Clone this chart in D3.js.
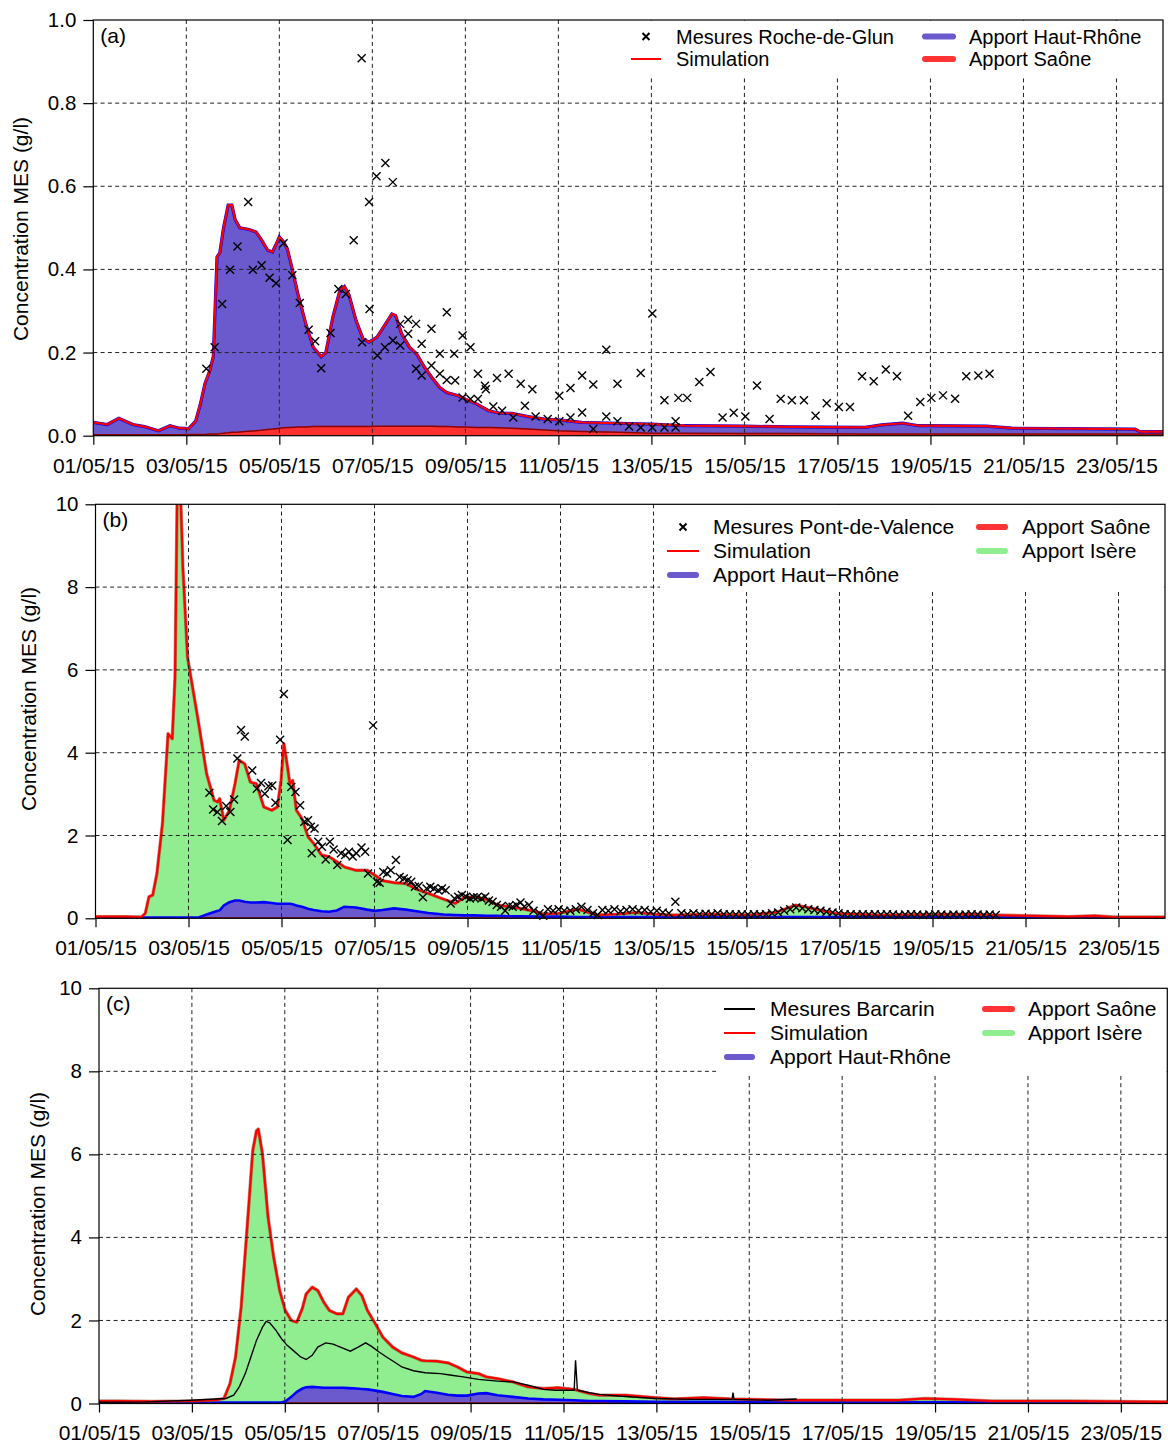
<!DOCTYPE html>
<html>
<head>
<meta charset="utf-8">
<script src="https://cdn.jsdelivr.net/npm/d3@7"></script>
<style>
    body { margin: 0; background: #fff; }
    svg { display: block; font-family: "Liberation Sans", Arial, Helvetica, sans-serif; }
</style>
</head>
<body>
<div id="chart"></div>
<script>
// time in days since 01/05/15 00:00, concentrations in g/l

// (a) Roche-de-Glun
const tA = [0, 0.3, 0.55, 0.85, 1.1, 1.4, 1.65, 1.85, 2.05, 2.2,
    2.3, 2.4, 2.5, 2.58, 2.66, 2.72, 2.8, 2.9, 2.98, 3.05,
    3.15, 3.35, 3.5, 3.6, 3.75, 3.85, 3.92, 4.0, 4.08, 4.17,
    4.25, 4.4, 4.57, 4.73, 4.9, 5.0, 5.15, 5.3, 5.4, 5.5,
    5.65, 5.8, 5.93, 6.1, 6.26, 6.42, 6.5, 6.63, 6.8, 6.95,
    7.12, 7.28, 7.45, 7.6, 7.85, 8.0, 8.25, 8.5, 8.75, 9.0,
    9.35, 9.7, 10.0, 10.5, 11.3, 12.0, 12.7, 14.0, 15.0, 16.6,
    16.95, 17.4, 17.75, 19.2, 19.75, 22.4, 22.5, 23.0];
const simA = [0.032, 0.027, 0.042, 0.027, 0.022, 0.012, 0.024, 0.018, 0.017, 0.035,
    0.075, 0.125, 0.155, 0.19, 0.43, 0.44, 0.5, 0.555, 0.555, 0.52,
    0.5, 0.496, 0.49, 0.474, 0.446, 0.442, 0.458, 0.478, 0.468, 0.45,
    0.414, 0.341, 0.269, 0.213, 0.19, 0.2, 0.285, 0.349, 0.359, 0.338,
    0.277, 0.233, 0.225, 0.237, 0.265, 0.293, 0.289, 0.245, 0.213, 0.197,
    0.165, 0.14, 0.116, 0.104, 0.096, 0.088, 0.076, 0.06, 0.054, 0.054,
    0.046, 0.04, 0.038, 0.032, 0.03, 0.028, 0.024, 0.023, 0.021, 0.02,
    0.026, 0.03, 0.024, 0.023, 0.018, 0.016, 0.01, 0.01];
const saoneA = [0.002, 0.002, 0.002, 0.002, 0.002, 0.002, 0.002, 0.002, 0.003, 0.003,
    0.003, 0.003, 0.004, 0.004, 0.004, 0.005, 0.006, 0.007, 0.008, 0.008,
    0.009, 0.011, 0.012, 0.013, 0.015, 0.016, 0.017, 0.018, 0.019, 0.02,
    0.02, 0.021, 0.021, 0.022, 0.022, 0.022, 0.022, 0.022, 0.022, 0.022,
    0.022, 0.022, 0.022, 0.023, 0.023, 0.023, 0.023, 0.023, 0.023, 0.023,
    0.023, 0.023, 0.022, 0.022, 0.021, 0.021, 0.02, 0.02, 0.019, 0.018,
    0.016, 0.014, 0.012, 0.01, 0.008, 0.006, 0.006, 0.005, 0.005, 0.004,
    0.004, 0.004, 0.004, 0.004, 0.004, 0.004, 0.004, 0.004];
const measTA = [2.43, 2.61, 2.77, 2.94, 3.10, 3.33, 3.43, 3.62, 3.79, 3.93,
    4.09, 4.28, 4.44, 4.63, 4.77, 4.90, 5.10, 5.27, 5.43, 5.60,
    5.77, 5.78, 5.93, 5.94, 6.09, 6.11, 6.27, 6.28, 6.44, 6.44,
    6.60, 6.60, 6.77, 6.77, 6.94, 6.94, 7.06, 7.06, 7.27, 7.27,
    7.45, 7.45, 7.60, 7.60, 7.76, 7.78, 7.94, 7.94, 8.11, 8.11,
    8.27, 8.27, 8.42, 8.44, 8.60, 8.68, 8.79, 8.93, 9.03, 9.19,
    9.28, 9.44, 9.51, 9.77, 10.02, 10.02, 10.26, 10.26, 10.51, 10.51,
    10.75, 10.75, 11.03, 11.03, 11.27, 11.27, 11.52, 11.77, 11.77, 12.02,
    12.02, 12.28, 12.28, 12.52, 12.52, 12.58, 12.77, 13.03, 13.27, 13.53,
    13.77, 14.02, 14.27, 14.54, 14.78, 15.02, 15.28, 15.53, 15.77, 16.03,
    16.27, 16.53, 16.78, 17.04, 17.28, 17.52, 17.78, 18.02, 18.27, 18.53,
    18.77, 19.03, 19.27];
const measVA = [0.161, 0.213, 0.317, 0.399, 0.455, 0.562, 0.399, 0.41, 0.38, 0.367,
    0.463, 0.386, 0.319, 0.255, 0.227, 0.162, 0.247, 0.353, 0.341, 0.47,
    0.908, 0.225, 0.562, 0.305, 0.624, 0.193, 0.213, 0.656, 0.61, 0.229,
    0.217, 0.269, 0.279, 0.245, 0.269, 0.161, 0.221, 0.145, 0.257, 0.169,
    0.197, 0.149, 0.297, 0.134, 0.197, 0.133, 0.241, 0.092, 0.213, 0.088,
    0.149, 0.088, 0.12, 0.112, 0.07, 0.139, 0.06, 0.149, 0.044, 0.125,
    0.072, 0.112, 0.046, 0.04, 0.096, 0.035, 0.115, 0.044, 0.145, 0.056,
    0.123, 0.016, 0.207, 0.046, 0.125, 0.035, 0.022, 0.151, 0.02, 0.294,
    0.02, 0.085, 0.02, 0.035, 0.02, 0.091, 0.091, 0.129, 0.153, 0.044,
    0.055, 0.046, 0.121, 0.04, 0.089, 0.085, 0.085, 0.048, 0.078, 0.069,
    0.069, 0.143, 0.131, 0.159, 0.143, 0.048, 0.081, 0.091, 0.097, 0.089,
    0.143, 0.145, 0.149];

// (b) Pont-de-Valence
const tB = [0, 0.66, 0.99, 1.07, 1.15, 1.23, 1.32, 1.44, 1.56, 1.65,
    1.71, 1.76, 1.82, 1.88, 1.98, 2.1, 2.22, 2.39, 2.55, 2.63,
    2.67, 2.76, 2.88, 3.0, 3.09, 3.21, 3.33, 3.46, 3.62, 3.79,
    3.91, 3.99, 4.05, 4.12, 4.18, 4.24, 4.32, 4.44, 4.57, 4.69,
    4.86, 5.02, 5.19, 5.35, 5.6, 5.84, 6.01, 6.17, 6.42, 6.67,
    6.91, 7.16, 7.49, 7.74, 7.94, 8.15, 8.4, 8.64, 8.89, 9.14,
    9.47, 9.63, 9.96, 10.37, 10.78, 11.21, 11.62, 12.0, 12.43, 13.24,
    14.05, 14.62, 15.06, 15.42, 15.91, 16.88, 18.83, 19.31, 20.12, 20.93,
    21.5, 21.9, 23.0];
const simB = [0.04, 0.04, 0.03, 0.12, 0.52, 0.56, 1.08, 2.29, 4.46, 4.34,
    5.82, 10.6, 10.6, 8.47, 6.3, 5.5, 4.7, 3.49, 2.85, 2.81,
    2.89, 2.37, 2.61, 3.25, 3.82, 3.73, 3.29, 3.25, 2.69, 2.61,
    2.69, 3.33, 4.22, 3.73, 3.25, 3.33, 2.61, 2.41, 1.97, 1.81,
    1.53, 1.49, 1.37, 1.24, 1.16, 1.16, 1.04, 0.91, 0.86, 0.84,
    0.7, 0.6, 0.46, 0.36, 0.51, 0.51, 0.46, 0.32, 0.28, 0.24,
    0.16, 0.1, 0.12, 0.22, 0.08, 0.1, 0.14, 0.1, 0.08, 0.1,
    0.08, 0.14, 0.32, 0.24, 0.12, 0.08, 0.1, 0.08, 0.06, 0.04,
    0.06, 0.03, 0.03];
const hautRhoneB = [0.01, 0.01, 0.01, 0.01, 0.01, 0.01, 0.01, 0.01, 0.01, 0.01,
    0.01, 0.01, 0.01, 0.01, 0.01, 0.01, 0.01, 0.08, 0.14, 0.17,
    0.18, 0.3, 0.38, 0.42, 0.42, 0.39, 0.37, 0.37, 0.38, 0.36,
    0.34, 0.34, 0.34, 0.34, 0.34, 0.33, 0.3, 0.27, 0.22, 0.19,
    0.16, 0.15, 0.18, 0.27, 0.25, 0.2, 0.17, 0.19, 0.23, 0.2,
    0.16, 0.12, 0.08, 0.07, 0.06, 0.06, 0.05, 0.05, 0.04, 0.04,
    0.03, 0.03, 0.03, 0.02, 0.02, 0.02, 0.02, 0.02, 0.02, 0.02,
    0.02, 0.02, 0.02, 0.02, 0.02, 0.02, 0.02, 0.02, 0.01, 0.01,
    0.01, 0.01, 0.01];
const saoneB = [0.01, 0.01, 0.01, 0.01, 0.01, 0.01, 0.01, 0.01, 0.01, 0.01,
    0.01, 0.01, 0.01, 0.01, 0.01, 0.01, 0.01, 0.01, 0.01, 0.01,
    0.01, 0.01, 0.01, 0.01, 0.01, 0.01, 0.01, 0.01, 0.01, 0.01,
    0.01, 0.01, 0.01, 0.01, 0.01, 0.01, 0.01, 0.01, 0.01, 0.01,
    0.01, 0.01, 0.01, 0.01, 0.01, 0.01, 0.01, 0.01, 0.01, 0.01,
    0.01, 0.01, 0.01, 0.01, 0.01, 0.01, 0.01, 0.01, 0.01, 0.01,
    0.01, 0.01, 0.01, 0.01, 0.01, 0.01, 0.01, 0.01, 0.01, 0.01,
    0.01, 0.01, 0.01, 0.01, 0.01, 0.01, 0.01, 0.01, 0.01, 0.01,
    0.01, 0.01, 0.01];
const measTB = [2.45, 2.53, 2.62, 2.72, 2.81, 2.9, 2.98, 3.05, 3.13, 3.21,
    3.37, 3.47, 3.56, 3.64, 3.72, 3.8, 3.87, 3.97, 4.05, 4.13,
    4.21, 4.3, 4.4, 4.49, 4.57, 4.63, 4.65, 4.71, 4.79, 4.87,
    4.95, 5.04, 5.12, 5.2, 5.28, 5.37, 5.45, 5.53, 5.61, 5.72,
    5.8, 5.86, 5.97, 6.05, 6.11, 6.19, 6.27, 6.35, 6.46, 6.54,
    6.63, 6.71, 6.79, 6.87, 6.95, 7.04, 7.12, 7.2, 7.28, 7.37,
    7.45, 7.53, 7.64, 7.72, 7.8, 7.88, 7.97, 8.05, 8.13, 8.21,
    8.3, 8.38, 8.46, 8.54, 8.63, 8.72, 8.81, 8.89, 8.97, 9.05,
    9.14, 9.22, 9.32, 9.42, 9.55, 9.63, 9.73, 9.84, 9.96, 10.08,
    10.21, 10.33, 10.45, 10.58, 10.7, 10.8, 10.9, 11.03, 11.16, 11.29,
    11.42, 11.55, 11.68, 11.81, 11.94, 12.07, 12.2, 12.33, 12.47, 12.6,
    12.73, 12.86, 12.99, 13.12, 13.25, 13.38, 13.51, 13.64, 13.77, 13.9,
    14.03, 14.16, 14.29, 14.42, 14.55, 14.68, 14.81, 14.94, 15.07, 15.2,
    15.33, 15.46, 15.59, 15.72, 15.85, 15.98, 16.11, 16.24, 16.37, 16.5,
    16.63, 16.76, 16.89, 17.02, 17.15, 17.28, 17.41, 17.54, 17.67, 17.8,
    17.93, 18.06, 18.19, 18.32, 18.45, 18.58, 18.71, 18.84, 18.97, 19.1,
    19.23, 19.36];
const measVB = [3.03, 2.63, 2.57, 2.35, 2.71, 2.57, 2.87, 3.86, 4.55, 4.39,
    3.57, 3.13, 3.27, 3.01, 3.19, 3.21, 2.79, 4.31, 5.42, 1.89,
    3.17, 3.05, 2.73, 2.33, 2.37, 2.21, 1.57, 2.17, 1.85, 1.73,
    1.42, 1.85, 1.66, 1.29, 1.57, 1.53, 1.61, 1.49, 1.57, 1.71,
    1.61, 1.08, 4.66, 0.88, 0.86, 1.12, 1.08, 1.16, 1.41, 1.0,
    0.96, 0.92, 0.88, 0.76, 0.78, 0.51, 0.72, 0.76, 0.72, 0.68,
    0.72, 0.68, 0.36, 0.48, 0.52, 0.56, 0.52, 0.48, 0.51, 0.51,
    0.48, 0.52, 0.43, 0.4, 0.32, 0.28, 0.18, 0.3, 0.28, 0.32,
    0.38, 0.28, 0.32, 0.18, 0.12, 0.06, 0.22, 0.18, 0.22, 0.18,
    0.18, 0.22, 0.28, 0.2, 0.12, 0.08, 0.2, 0.18, 0.22, 0.17,
    0.2, 0.22, 0.18, 0.2, 0.16, 0.18, 0.14, 0.12, 0.4, 0.12,
    0.1, 0.12, 0.1, 0.11, 0.1, 0.12, 0.1, 0.1, 0.09, 0.1,
    0.09, 0.1, 0.09, 0.1, 0.12, 0.14, 0.18, 0.22, 0.26, 0.24,
    0.22, 0.2, 0.18, 0.16, 0.14, 0.12, 0.1, 0.1, 0.09, 0.1,
    0.09, 0.1, 0.09, 0.1, 0.09, 0.08, 0.09, 0.1, 0.09, 0.08,
    0.09, 0.1, 0.09, 0.08, 0.09, 0.08, 0.09, 0.1, 0.09, 0.08,
    0.09, 0.08];

// (c) Barcarin
const tC = [0, 0.35, 1.17, 1.99, 2.49, 2.69, 2.82, 2.94, 3.06, 3.19,
    3.31, 3.39, 3.43, 3.52, 3.64, 3.76, 3.89, 4.01, 4.14, 4.26,
    4.38, 4.46, 4.59, 4.71, 4.84, 4.96, 5.12, 5.25, 5.37, 5.54,
    5.66, 5.78, 5.95, 6.11, 6.32, 6.52, 6.77, 6.94, 7.02, 7.27,
    7.51, 7.72, 7.92, 8.17, 8.34, 8.58, 8.91, 9.24, 9.57, 9.9,
    10.23, 10.56, 10.77, 11.33, 11.98, 12.38, 13.02, 13.59, 14.88, 16.0,
    17.22, 17.78, 18.43, 19.23, 20.85, 23.0];
const simC = [0.06, 0.06, 0.05, 0.06, 0.08, 0.12, 0.48, 1.12, 2.32, 4.25,
    6.09, 6.57, 6.61, 6.01, 4.49, 3.53, 2.72, 2.24, 2.0, 1.96,
    2.3, 2.64, 2.8, 2.72, 2.44, 2.24, 2.16, 2.16, 2.56, 2.76,
    2.6, 2.24, 1.92, 1.6, 1.36, 1.22, 1.12, 1.04, 1.03, 1.02,
    0.98, 0.88, 0.76, 0.72, 0.64, 0.6, 0.52, 0.4, 0.36, 0.38,
    0.34, 0.24, 0.2, 0.2, 0.14, 0.11, 0.14, 0.11, 0.08, 0.08,
    0.08, 0.12, 0.1, 0.06, 0.06, 0.04];
const hautRhoneC = [0.01, 0.01, 0.01, 0.01, 0.01, 0.01, 0.01, 0.01, 0.01, 0.01,
    0.01, 0.01, 0.01, 0.01, 0.01, 0.01, 0.01, 0.04, 0.15, 0.27,
    0.35, 0.38, 0.39, 0.38, 0.37, 0.37, 0.37, 0.37, 0.36, 0.35,
    0.34, 0.33, 0.3, 0.27, 0.22, 0.17, 0.15, 0.22, 0.29, 0.25,
    0.2, 0.18, 0.18, 0.23, 0.24, 0.19, 0.15, 0.11, 0.09, 0.08,
    0.07, 0.05, 0.05, 0.04, 0.03, 0.03, 0.03, 0.03, 0.02, 0.02,
    0.02, 0.02, 0.02, 0.02, 0.01, 0.01];
const saoneC = [0.01, 0.01, 0.01, 0.01, 0.01, 0.01, 0.01, 0.01, 0.01, 0.01,
    0.01, 0.01, 0.01, 0.01, 0.01, 0.01, 0.01, 0.01, 0.01, 0.01,
    0.01, 0.01, 0.01, 0.01, 0.01, 0.01, 0.01, 0.01, 0.01, 0.01,
    0.01, 0.01, 0.01, 0.01, 0.01, 0.01, 0.01, 0.01, 0.01, 0.01,
    0.01, 0.01, 0.01, 0.01, 0.01, 0.01, 0.01, 0.01, 0.01, 0.01,
    0.01, 0.01, 0.01, 0.01, 0.01, 0.01, 0.01, 0.01, 0.01, 0.01,
    0.01, 0.01, 0.01, 0.01, 0.01, 0.01];
const measTC = [0, 1.0, 1.99, 2.49, 2.73, 2.9, 3.02, 3.15, 3.27, 3.39,
    3.52, 3.6, 3.68, 3.81, 3.93, 4.05, 4.18, 4.34, 4.46, 4.59,
    4.71, 4.88, 5.04, 5.21, 5.41, 5.58, 5.74, 5.86, 6.03, 6.19,
    6.36, 6.52, 6.77, 7.02, 7.35, 7.59, 7.84, 8.17, 8.58, 8.91,
    9.24, 9.57, 9.82, 10.23, 10.26, 10.3, 10.56, 10.77, 11.17, 11.98,
    12.78, 13.63, 13.65, 13.67, 14.4, 15.02];
const measVC = [0.03, 0.04, 0.08, 0.11, 0.12, 0.2, 0.4, 0.72, 1.12, 1.52,
    1.84, 1.98, 1.94, 1.76, 1.56, 1.4, 1.28, 1.12, 1.06, 1.16,
    1.36, 1.46, 1.43, 1.35, 1.26, 1.36, 1.46, 1.38, 1.24, 1.12,
    1.0, 0.88, 0.79, 0.74, 0.72, 0.68, 0.64, 0.58, 0.54, 0.52,
    0.44, 0.34, 0.32, 0.32, 1.04, 0.32, 0.26, 0.22, 0.18, 0.12,
    0.1, 0.1, 0.26, 0.1, 0.08, 0.11];

const yTicksA = [0, 0.2, 0.4, 0.6, 0.8, 1.0];
const yTicksBC = [0, 2, 4, 6, 8, 10];
const xTickDays = [0, 2, 4, 6, 8, 10, 12, 14, 16, 18, 20, 22];

const HR_FILL = "#6a5acd", HR_LINE = "#0000ff",
    SAONE_FILL = "#ff3030", SAONE_LINE = "#8b0000",
    ISERE_FILL = "#90ee90", SIM = "#ff0000";
const FONT = 21;

const t0 = Date.UTC(2015, 4, 1);
const toDate = d => new Date(t0 + d * 864e5);

let svg = d3.select("#chart")
    .append("svg")
    .attr("width", 1168)
    .attr("height", 1445);

function drawPanel(options = {}) {
    let {key, box, yMax, yTicks, yFormat, t, sim, saone, hautRhone, isere,
        points, measured, label, title, legend} = options;

    let x = d3.scaleUtc().domain([toDate(0), toDate(23)]).range([box.left, box.right]);
    let y = d3.scaleLinear().domain([0, yMax]).range([box.bottom, box.top]);

    let g = svg.append("g");

    g.append("defs").append("clipPath")
        .attr("id", "clip-" + key)
        .append("rect")
        .attr("x", box.left)
        .attr("y", box.top)
        .attr("width", box.right - box.left)
        .attr("height", box.bottom - box.top);

    // contributions, stacked Saône then Haut-Rhône (in (a) Haut-Rhône fills up to the simulation)
    let rows = t.map((d, i) => ({
        date: toDate(d),
        saone: saone[i],
        hautRhone: hautRhone ? hautRhone[i] : sim[i] - saone[i],
        sim: sim[i]
    }));
    let layers = d3.stack().keys(["saone", "hautRhone"])(rows);

    let plot = g.append("g").attr("clip-path", `url(#clip-${key})`);

    let band = d3.area()
        .x(d => x(d.data.date))
        .y0(d => y(d[0]))
        .y1(d => y(d[1]));
    let edge = d3.line()
        .x(d => x(d.data.date))
        .y(d => y(d[1]));

    if (isere) {
        plot.append("path")
            .datum(layers[1])
            .attr("fill", ISERE_FILL)
            .attr("d", d3.area()
                .x(d => x(d.data.date))
                .y0(d => y(d[1]))
                .y1(d => y(d.data.sim)));
    }
    plot.append("path").datum(layers[1]).attr("fill", HR_FILL).attr("d", band);
    plot.append("path").datum(layers[0]).attr("fill", SAONE_FILL).attr("d", band);

    // grid
    let grid = g.append("g")
        .attr("stroke", "#222")
        .attr("stroke-width", 1)
        .attr("stroke-dasharray", "4,3.3");
    grid.selectAll("line.v")
        .data(xTickDays.slice(1))
        .join("line")
        .attr("class", "v")
        .attr("x1", d => x(toDate(d))).attr("x2", d => x(toDate(d)))
        .attr("y1", box.top).attr("y2", box.bottom);
    grid.selectAll("line.h")
        .data(yTicks.slice(1, -1))
        .join("line")
        .attr("class", "h")
        .attr("x1", box.left).attr("x2", box.right)
        .attr("y1", d => y(d)).attr("y2", d => y(d));

    plot.append("path").datum(layers[0])
        .attr("fill", "none").attr("stroke", SAONE_LINE).attr("stroke-width", 1.5)
        .attr("d", edge);
    plot.append("path").datum(layers[1])
        .attr("fill", "none").attr("stroke", HR_LINE).attr("stroke-width", isere ? 2.6 : 3.2)
        .attr("d", edge);

    let simLine = d3.line().x(d => x(d.date)).y(d => y(d.sim));
    if (isere) {
        plot.append("path").datum(rows)
            .attr("fill", "none").attr("stroke", "#8b3a1a").attr("stroke-width", 3.4)
            .attr("stroke-linejoin", "round").attr("opacity", 0.55)
            .attr("d", simLine);
    }
    plot.append("path").datum(rows)
        .attr("fill", "none").attr("stroke", SIM).attr("stroke-width", 2.2)
        .attr("stroke-linejoin", "round")
        .attr("d", simLine);

    // measurements
    if (points) {
        g.append("g").selectAll("path")
            .data(points.t.map((d, i) => [d, points.v[i]]))
            .join("path")
            .attr("transform", d => `translate(${x(toDate(d[0]))},${y(d[1])})`)
            .attr("d", "M-4,-4L4,4M-4,4L4,-4")
            .attr("stroke", "#000")
            .attr("stroke-width", 1.4);
    }
    if (measured) {
        plot.append("path")
            .datum(measured.t.map((d, i) => [d, measured.v[i]]))
            .attr("fill", "none").attr("stroke", "#000").attr("stroke-width", 1.4)
            .attr("d", d3.line().x(d => x(toDate(d[0]))).y(d => y(d[1])));
    }

    // axes
    let xAxis = g.append("g")
        .attr("transform", `translate(0,${box.bottom})`)
        .call(d3.axisBottom(x)
            .tickValues(xTickDays.map(toDate))
            .tickFormat(d3.utcFormat("%d/%m/%y"))
            .tickSize(9)
            .tickPadding(13));
    let yAxis = g.append("g")
        .attr("transform", `translate(${box.left},0)`)
        .call(d3.axisLeft(y)
            .tickValues(yTicks)
            .tickFormat(d3.format(yFormat))
            .tickSize(10)
            .tickPadding(7));
    [xAxis, yAxis].forEach(a => {
        a.select(".domain").remove();
        a.attr("font-family", null).attr("font-size", FONT);
        a.selectAll("line").attr("stroke", "#000").attr("stroke-width", 1.2);
        a.selectAll("text").attr("fill", "#000");
    });
    yAxis.selectAll("text").attr("font-size", 20.5);

    // legend, white box over the grid
    let lg = g.append("g").attr("font-size", legend.fontSize || FONT);
    lg.append("rect")
        .attr("x", legend.box[0]).attr("y", legend.box[1])
        .attr("width", legend.box[2] - legend.box[0])
        .attr("height", legend.box[3] - legend.box[1])
        .attr("fill", "#fff");
    legend.items.forEach(it => {
        if (it.kind === "cross") {
            lg.append("path")
                .attr("transform", `translate(${it.x},${it.y})`)
                .attr("d", "M-3.5,-3.5L3.5,3.5M-3.5,3.5L3.5,-3.5")
                .attr("stroke", it.color).attr("stroke-width", 2);
        } else {
            lg.append("line")
                .attr("x1", it.x1).attr("x2", it.x2)
                .attr("y1", it.y).attr("y2", it.y)
                .attr("stroke", it.color)
                .attr("stroke-width", it.kind === "thick" ? 6 : 2)
                .attr("stroke-linecap", it.kind === "thick" ? "round" : "butt");
        }
        lg.append("text")
            .attr("x", it.tx).attr("y", it.y).attr("dy", "0.35em")
            .text(it.text);
    });

    // frame
    g.append("rect")
        .attr("x", box.left).attr("y", box.top)
        .attr("width", box.right - box.left)
        .attr("height", box.bottom - box.top)
        .attr("fill", "none")
        .attr("stroke", "#000")
        .attr("stroke-width", 1.2);

    g.append("text")
        .attr("x", box.left + 7).attr("y", box.top + 23)
        .attr("font-size", FONT)
        .text(label);

    g.append("text")
        .attr("transform", `translate(${title.x},${title.y}) rotate(-90)`)
        .attr("text-anchor", "middle")
        .attr("dy", "0.35em")
        .attr("font-size", FONT)
        .text("Concentration MES (g/l)");
}

drawPanel({
    key: "a",
    box: {left: 93.3, right: 1163, top: 20, bottom: 435.7},
    yMax: 1, yTicks: yTicksA, yFormat: ".1f",
    t: tA, sim: simA, saone: saoneA, hautRhone: null, isere: false,
    points: {t: measTA, v: measVA},
    label: "(a)",
    title: {x: 21, y: 229},
    legend: {
        fontSize: 20,
        box: [615, 20.6, 1162.4, 75],
        items: [
            {kind: "cross", x: 646, y: 36.5, color: "#000", tx: 676, text: "Mesures Roche-de-Glun"},
            {kind: "line", x1: 631, x2: 661, y: 59, color: SIM, tx: 676, text: "Simulation"},
            {kind: "thick", x1: 925, x2: 953, y: 36.5, color: HR_FILL, tx: 969, text: "Apport Haut-Rhône"},
            {kind: "thick", x1: 925, x2: 953, y: 59, color: "#ff3333", tx: 969, text: "Apport Saône"}
        ]
    }
});

drawPanel({
    key: "b",
    box: {left: 95.5, right: 1165, top: 504.3, bottom: 918.3},
    yMax: 10, yTicks: yTicksBC, yFormat: "d",
    t: tB, sim: simB, saone: saoneB, hautRhone: hautRhoneB, isere: true,
    points: {t: measTB, v: measVB},
    label: "(b)",
    title: {x: 29, y: 699},
    legend: {
        box: [660, 504.9, 1164.4, 592],
        items: [
            {kind: "cross", x: 683, y: 527, color: "#000", tx: 713, text: "Mesures Pont-de-Valence"},
            {kind: "line", x1: 667, x2: 699, y: 551, color: SIM, tx: 713, text: "Simulation"},
            {kind: "thick", x1: 670, x2: 696, y: 575, color: HR_FILL, tx: 713, text: "Apport Haut\u2212Rhône"},
            {kind: "thick", x1: 979, x2: 1005, y: 527, color: "#ff3333", tx: 1022, text: "Apport Saône"},
            {kind: "thick", x1: 979, x2: 1005, y: 551, color: ISERE_FILL, tx: 1022, text: "Apport Isère"}
        ]
    }
});

drawPanel({
    key: "c",
    box: {left: 99, right: 1167.3, top: 988.3, bottom: 1403.5},
    yMax: 10, yTicks: yTicksBC, yFormat: "d",
    t: tC, sim: simC, saone: saoneC, hautRhone: hautRhoneC, isere: true,
    measured: {t: measTC, v: measVC},
    label: "(c)",
    title: {x: 38, y: 1204},
    legend: {
        box: [716, 988.9, 1166.7, 1073],
        items: [
            {kind: "line", x1: 724, x2: 755, y: 1009, color: "#000", tx: 770, text: "Mesures Barcarin"},
            {kind: "line", x1: 724, x2: 755, y: 1033, color: SIM, tx: 770, text: "Simulation"},
            {kind: "thick", x1: 727, x2: 752, y: 1057, color: HR_FILL, tx: 770, text: "Apport Haut-Rhône"},
            {kind: "thick", x1: 985, x2: 1012, y: 1009, color: "#ff3333", tx: 1028, text: "Apport Saône"},
            {kind: "thick", x1: 985, x2: 1012, y: 1033, color: ISERE_FILL, tx: 1028, text: "Apport Isère"}
        ]
    }
});
</script>
</body>
</html>
